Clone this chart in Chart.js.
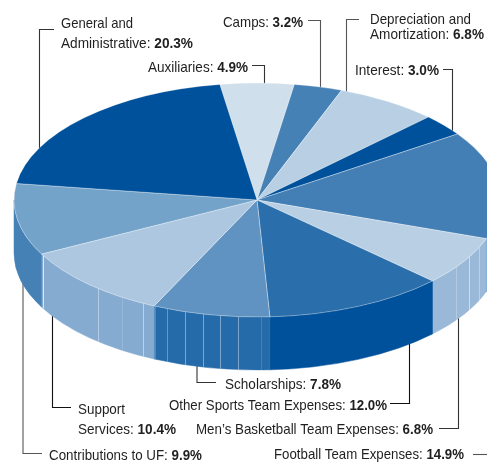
<!DOCTYPE html>
<html><head><meta charset="utf-8">
<style>html,body{margin:0;padding:0;background:#fff}canvas{display:block}</style>
<script src="https://cdn.jsdelivr.net/npm/chart.js@4"></script></head>
<body><canvas id="c" width="487" height="463" style="width:487px;height:463px"></canvas>
<script>
const categories=["Auxiliaries","Camps","Depreciation and Amortization","Interest","Football Team Expenses","Men’s Basketball Team Expenses","Other Sports Team Expenses","Scholarships","Support Services","Contributions to UF","General and Administrative"];
const values=[4.9,3.2,6.8,3.0,14.9,6.8,12.0,7.8,10.4,9.9,20.3];
const topColors=["#cfdfec","#4681b6","#b9d0e4","#00519b","#437fb5","#b9d0e4","#2a6eab","#6093c1","#adc7e0","#74a3ca","#00519b"];
const wallColors=["#cfdfec","#4681b6","#b9d0e4","#00519b","#437fb5","#9ab9d8","#00519b","#256ba9","#85abd0","#4681b6","#00519b"];
const seamXs=[43,98,122,143,155,167,185,203,220,238,261,456,469,479];
const seamAlpha=[.7,.4,.15,.45,.2,.3,.4,.4,.4,.4,.15,.25,.5,.35];
const textColor="#1f1f1f";
const labels=[
 {x:61,y:28,w:72,parts:[["General and",0]]},
 {x:61,y:48,w:132,parts:[["Administrative: ",0],["20.3%",1]]},
 {x:223,y:27,w:80,parts:[["Camps: ",0],["3.2%",1]]},
 {x:370,y:24,w:101,parts:[["Depreciation and",0]]},
 {x:370,y:39,w:114,parts:[["Amortization: ",0],["6.8%",1]]},
 {x:355,y:75,w:84,parts:[["Interest: ",0],["3.0%",1]]},
 {x:148,y:72,w:100,parts:[["Auxiliaries: ",0],["4.9%",1]]},
 {x:225,y:389,w:116,parts:[["Scholarships: ",0],["7.8%",1]]},
 {x:169,y:410,w:218,parts:[["Other Sports Team Expenses: ",0],["12.0%",1]]},
 {x:78,y:414,w:47,parts:[["Support",0]]},
 {x:78,y:434,w:98,parts:[["Services: ",0],["10.4%",1]]},
 {x:196,y:434,w:237,parts:[["Men’s Basketball Team Expenses: ",0],["6.8%",1]]},
 {x:49,y:460,w:153,parts:[["Contributions to UF: ",0],["9.9%",1]]},
 {x:274,y:459,w:190,parts:[["Football Team Expenses: ",0],["14.9%",1]]}
];
const leaders=[
 {c:"#333",p:[[54,29.5],[39.5,29.5],[39.5,150]]},
 {c:"#555",p:[[308,20.5],[320.5,20.5],[320.5,92]]},
 {c:"#555",p:[[359,19.5],[346.5,19.5],[346.5,96]]},
 {c:"#333",p:[[443,69.5],[452.5,69.5],[452.5,134]]},
 {c:"#333",p:[[252,65.5],[264.5,65.5],[264.5,88]]},
 {c:"#555",p:[[473,454.5],[487,454.5]]},
 {c:"#333",p:[[439,428.5],[458.5,428.5],[458.5,310]]},
 {c:"#111",p:[[390,403.5],[409.5,403.5],[409.5,340]]},
 {c:"#333",p:[[216,382.5],[197,382.5],[197,360]]},
 {c:"#111",p:[[71,407.5],[52.5,407.5],[52.5,310]]},
 {c:"#555",p:[[42,453.5],[23,453.5],[23,280]]}
];
const flat=117/243, depth=53, rotationDeg=-8.8;
const FONT='"Liberation Sans",sans-serif';
const SIZE=15;
const CX=257,CY=200;
const pie3d={id:'pie3d',
 beforeDatasetsDraw(chart){
  const ctx=chart.ctx,arcs=chart.getDatasetMeta(0).data;
  ctx.save();
  ctx.lineCap='butt';
  leaders.forEach(l=>{ctx.beginPath();l.p.forEach((q,i)=>i?ctx.lineTo(q[0],q[1]):ctx.moveTo(q[0],q[1]));ctx.strokeStyle=l.c;ctx.lineWidth=1.1;ctx.stroke();});
  const R=arcs[0].outerRadius;
  arcs.forEach((a,i)=>{
   let from=null,to=null;
   for(const k of [0,2*Math.PI,-2*Math.PI]){const f=Math.max(a.startAngle+k,0),t=Math.min(a.endAngle+k,Math.PI);if(t>f){from=f;to=t;}}
   if(from===null)return;
   ctx.beginPath();
   ctx.ellipse(a.x,a.y,R,R*flat,0,from,to,false);
   ctx.ellipse(a.x,a.y+depth,R,R*flat,0,to,from,true);
   ctx.closePath();
   ctx.fillStyle=wallColors[i];ctx.fill();
   ctx.strokeStyle=wallColors[i];ctx.lineWidth=.5;ctx.stroke();
  });
  seamXs.forEach((x,i)=>{
   const dx=(x-CX)/R,h=Math.sqrt(1-dx*dx)*R*flat;
   ctx.beginPath();ctx.moveTo(x+.5,CY+h);ctx.lineTo(x+.5,CY+h+depth);
   ctx.strokeStyle='rgba(255,255,255,'+seamAlpha[i]+')';ctx.lineWidth=1;ctx.stroke();
  });
  ctx.restore();
  ctx.save();
  ctx.translate(0,CY);ctx.scale(1,flat);ctx.translate(0,-CY);
 },
 afterDatasetsDraw(chart){
  const ctx=chart.ctx;
  ctx.restore();
  ctx.save();
  ctx.textBaseline='alphabetic';ctx.textAlign='left';ctx.fillStyle=textColor;
  labels.forEach(l=>{
   let total=0;
   l.parts.forEach(([t,b])=>{ctx.font=(b?'bold ':'')+SIZE+'px '+FONT;total+=ctx.measureText(t).width;});
   const sx=l.w/total;
   ctx.save();ctx.translate(l.x,l.y);ctx.scale(sx,1);
   let x=0;
   l.parts.forEach(([t,b])=>{ctx.font=(b?'bold ':'')+SIZE+'px '+FONT;ctx.fillText(t,x,0);x+=ctx.measureText(t).width;});
   ctx.restore();
  });
  ctx.restore();
 }
};
new Chart(document.getElementById('c'),{type:'pie',plugins:[pie3d],
 data:{labels:categories,datasets:[{data:values,backgroundColor:topColors,borderColor:'rgba(255,255,255,.45)',borderWidth:1,radius:243,clip:false}]},
 options:{responsive:false,animation:false,rotation:rotationDeg,
  layout:{padding:{left:27,right:0,top:0,bottom:63}},
  plugins:{legend:{display:false},tooltip:{enabled:false},title:{display:false}},events:[]}
});
</script></body></html>
